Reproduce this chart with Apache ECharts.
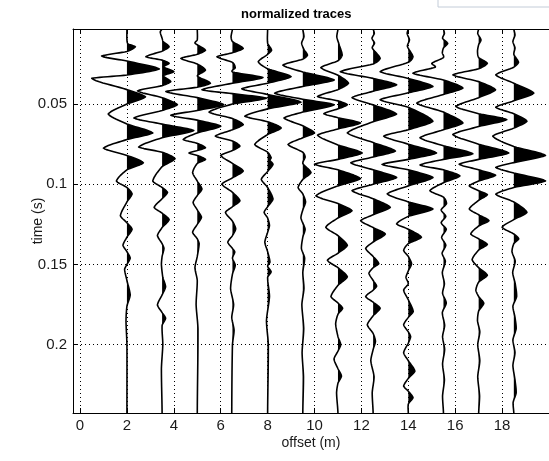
<!DOCTYPE html>
<html>
<head>
<meta charset="utf-8">
<script src="https://cdn.jsdelivr.net/npm/echarts@6/dist/echarts.min.js"></script>
<style>
  html, body { margin: 0; padding: 0; background: #fff; }
  #chart { width: 549px; height: 461px; }
</style>
</head>
<body>
<div id="chart"></div>
<script>
// trace offsets (m)
var offsets = [2, 3.5, 5, 6.5, 8, 9.5, 11, 12.5, 14, 15.5, 17, 18.5]

// each trace: [time (s), horizontal deflection in offset units]
var trace1 = [[0.003,0],[0.010,0],[0.0125,0.05],[0.0143,0.36],[0.0172,0],[0.0201,-1.08],[0.0232,0],[0.0281,1.38],[0.0319,0],[0.0340,-1.5],[0.041,0],[0.0455,0.79],[0.050,0],[0.0562,-0.8],[0.0624,0],[0.068,1.1],[0.0721,0],[0.0775,-1.0],[0.082,0],[0.0866,0.7],[0.091,0],[0.098,-0.45],[0.102,0],[0.106,0.22],[0.111,0],[0.1196,-0.28],[0.124,0],[0.128,0.22],[0.133,0],[0.138,-0.17],[0.142,0],[0.146,0.14],[0.150,0],[0.153,-0.1],[0.160,0],[0.169,0.14],[0.176,0],[0.185,-0.04],[0.200,0],[0.243,0]]
var trace2 = [[0.003,0],[0.005,-0.08],[0.009,0],[0.011,0.05],[0.0143,0.3],[0.017,0],[0.0205,-0.69],[0.0226,0],[0.0246,0.3],[0.0268,0.05],[0.0298,0.5],[0.0323,0.05],[0.036,0.37],[0.0385,0],[0.0418,-1.05],[0.046,0],[0.0504,0.65],[0.054,0],[0.0587,-1.2],[0.0625,0],[0.0665,1.35],[0.071,0],[0.0768,-1.0],[0.080,0],[0.084,0.55],[0.089,0],[0.098,-0.4],[0.102,0],[0.1051,0.23],[0.109,0],[0.1144,-0.34],[0.118,0],[0.122,0.3],[0.127,0],[0.132,-0.2],[0.137,0],[0.140,0.08],[0.145,0],[0.150,-0.03],[0.158,0.03],[0.1639,0.15],[0.169,0],[0.1752,-0.2],[0.180,0],[0.1835,0.15],[0.188,0],[0.200,0.03],[0.215,-0.03],[0.243,0]]
var trace3 = [[0.003,0],[0.010,0],[0.012,-0.1],[0.0164,0.35],[0.019,0],[0.0215,-0.7],[0.025,0],[0.0288,0.35],[0.0325,0],[0.037,0.56],[0.0395,0],[0.0422,-1.34],[0.046,0],[0.0504,1.13],[0.054,0],[0.057,-1.13],[0.060,0],[0.0638,1.0],[0.068,0],[0.0721,-0.6],[0.0745,0],[0.0772,0.35],[0.079,0],[0.0805,-0.35],[0.082,0],[0.0845,0.35],[0.087,0],[0.0927,-0.2],[0.098,0],[0.103,0.2],[0.107,0],[0.1113,-0.18],[0.116,0],[0.1206,0.18],[0.125,0],[0.1299,-0.2],[0.134,0],[0.137,0.08],[0.145,0],[0.152,-0.1],[0.160,0],[0.175,-0.05],[0.190,0.03],[0.243,0]]
var trace4 = [[0.003,0],[0.008,-0.06],[0.011,0],[0.0153,0.46],[0.018,0],[0.0205,-0.66],[0.024,0],[0.0273,0.12],[0.030,0],[0.0335,1.3],[0.037,0],[0.0411,-1.3],[0.0435,0],[0.0463,1.45],[0.050,0],[0.055,-1.0],[0.059,0],[0.0628,0.46],[0.066,0],[0.070,-0.73],[0.073,0],[0.0762,0.32],[0.079,0],[0.082,-0.5],[0.087,0],[0.0917,0.46],[0.096,0],[0.0999,-0.45],[0.105,0],[0.1103,0.32],[0.114,0],[0.1175,-0.3],[0.123,0],[0.1278,0.14],[0.132,0],[0.1361,-0.2],[0.140,0],[0.1422,0.1],[0.146,0],[0.1505,0.12],[0.156,0],[0.165,-0.08],[0.175,0.05],[0.183,-0.03],[0.191,0.07],[0.200,0],[0.243,-0.03]]
var trace5 = [[0.003,0],[0.012,0],[0.0164,0.17],[0.019,0],[0.0236,-0.4],[0.028,0],[0.0329,1.0],[0.037,0],[0.0405,-1.1],[0.044,0],[0.0488,1.42],[0.053,0],[0.0576,-0.97],[0.061,0],[0.0649,0.58],[0.069,0],[0.0752,-0.55],[0.080,0],[0.0834,0.15],[0.085,0.1],[0.0876,0.23],[0.092,0],[0.0969,-0.27],[0.102,0],[0.1092,0.23],[0.114,0],[0.1175,-0.15],[0.121,0],[0.1257,0.08],[0.130,0],[0.1361,-0.12],[0.142,0],[0.1485,0.1],[0.151,0],[0.1546,0.15],[0.158,0],[0.170,0.08],[0.185,-0.05],[0.200,0.03],[0.243,0]]
var trace6 = [[0.003,0],[0.008,0.05],[0.012,-0.05],[0.016,0.05],[0.0195,0.2],[0.022,0],[0.0257,-0.85],[0.030,0],[0.035,1.34],[0.039,0],[0.0432,-1.2],[0.047,0],[0.0504,1.34],[0.055,0],[0.0587,-0.8],[0.0635,0],[0.068,0.5],[0.071,0],[0.0752,-0.63],[0.080,0],[0.083,0.1],[0.087,0],[0.0927,0.35],[0.097,0],[0.102,-0.2],[0.106,0],[0.111,0.12],[0.116,0],[0.121,-0.08],[0.128,0.1],[0.133,0],[0.140,-0.06],[0.146,0.08],[0.155,0],[0.165,0.05],[0.175,-0.04],[0.190,0.04],[0.205,-0.03],[0.220,0.03],[0.243,0]]
var trace7 = [[0.003,0],[0.008,-0.05],[0.013,0.05],[0.0195,0.18],[0.023,0],[0.0273,-0.73],[0.032,0],[0.037,0.45],[0.041,0],[0.0453,-0.87],[0.048,0],[0.0504,0.4],[0.053,0],[0.056,-0.6],[0.0585,0],[0.0618,0.96],[0.0655,0],[0.0694,-0.87],[0.0755,0],[0.0805,1.03],[0.0845,0],[0.0875,-1.0],[0.091,0],[0.0965,0.96],[0.101,0],[0.1072,-0.94],[0.112,0],[0.1165,0.6],[0.121,0],[0.1268,-0.52],[0.132,0],[0.1381,0.4],[0.143,0],[0.1474,-0.45],[0.152,0],[0.1577,0.4],[0.163,0],[0.170,-0.3],[0.174,0],[0.1773,0.2],[0.181,0],[0.187,-0.1],[0.195,0],[0.200,0.12],[0.204,0],[0.209,-0.17],[0.215,0],[0.2196,0.15],[0.224,0],[0.230,-0.06],[0.243,0]]
var trace8 = [[0.003,0],[0.006,0.05],[0.009,-0.05],[0.012,0.06],[0.015,-0.04],[0.0215,0.3],[0.025,0],[0.0298,-1.4],[0.034,0],[0.038,1.0],[0.042,0],[0.046,-0.9],[0.0505,0],[0.0562,1.0],[0.061,0],[0.068,-1.1],[0.074,0],[0.0793,0.95],[0.083,0],[0.0866,-0.95],[0.091,0],[0.0958,1.0],[0.100,0],[0.104,-0.9],[0.109,0],[0.1144,0.73],[0.119,0],[0.1227,-0.53],[0.127,0],[0.131,0.52],[0.136,0],[0.140,-0.32],[0.145,0],[0.1495,0.24],[0.152,0],[0.1555,-0.18],[0.160,0],[0.1635,0.15],[0.166,0],[0.170,-0.32],[0.1735,0],[0.1773,0.3],[0.182,0],[0.1876,-0.25],[0.193,0],[0.1979,0.1],[0.203,0],[0.210,-0.1],[0.220,0.04],[0.230,-0.04],[0.243,0]]
var trace9 = [[0.003,0],[0.006,-0.05],[0.010,0.05],[0.014,-0.04],[0.0205,0.2],[0.024,0],[0.0298,-1.2],[0.034,0],[0.039,1.05],[0.043,0],[0.0473,-1.2],[0.052,0],[0.0607,1.05],[0.066,0],[0.070,-1.05],[0.075,0],[0.0805,1.2],[0.0845,0],[0.0876,-1.12],[0.091,0],[0.0958,1.05],[0.101,0],[0.106,-0.9],[0.111,0],[0.1154,1.05],[0.120,0],[0.1247,-0.5],[0.128,0],[0.133,0.56],[0.137,0],[0.1412,-0.2],[0.145,0],[0.1495,0.14],[0.154,0],[0.158,-0.1],[0.162,0],[0.166,-0.2],[0.172,0],[0.1793,0.21],[0.183,0],[0.1876,-0.2],[0.192,0],[0.195,0.1],[0.199,0],[0.205,-0.2],[0.210,0],[0.2165,0.28],[0.221,0],[0.2258,-0.2],[0.229,0],[0.233,0.2],[0.237,0],[0.243,0]]
var trace10 = [[0.003,0],[0.006,0.04],[0.009,-0.04],[0.0122,0.18],[0.015,0],[0.018,-0.05],[0.021,0],[0.0246,-0.5],[0.027,-0.35],[0.0308,-1.3],[0.035,0],[0.040,0.83],[0.044,0],[0.0494,-1.14],[0.055,0],[0.0618,0.83],[0.066,0],[0.071,-1.0],[0.076,0],[0.081,1.25],[0.0845,0],[0.088,-1.0],[0.091,0],[0.0948,0.7],[0.099,0],[0.104,-0.58],[0.108,0],[0.112,0.13],[0.116,-0.1],[0.120,0.1],[0.124,-0.1],[0.128,0.12],[0.133,-0.08],[0.138,0.1],[0.143,-0.06],[0.148,0.08],[0.155,-0.05],[0.162,0.04],[0.168,-0.04],[0.174,0.12],[0.180,-0.05],[0.188,0.05],[0.195,-0.04],[0.203,0.05],[0.212,-0.04],[0.222,0.04],[0.232,-0.04],[0.243,0]]
var trace11 = [[0.003,0],[0.006,-0.04],[0.010,0.1],[0.013,0],[0.017,-0.05],[0.021,0],[0.0246,0.37],[0.028,0],[0.0318,-1.1],[0.036,0],[0.0411,0.72],[0.046,0],[0.0515,-0.97],[0.056,0],[0.0597,1.2],[0.064,0],[0.069,-1.1],[0.075,0],[0.0805,1.28],[0.0845,0],[0.0875,-0.83],[0.091,0],[0.0944,0.72],[0.098,0],[0.101,-0.4],[0.104,0],[0.1065,0.37],[0.110,0],[0.1154,-0.4],[0.119,0],[0.1227,0.44],[0.126,0],[0.131,-0.34],[0.134,0],[0.1375,0.37],[0.141,0],[0.147,-0.28],[0.152,0],[0.1567,0.37],[0.161,0],[0.166,-0.12],[0.170,0],[0.1742,0.22],[0.179,0],[0.185,-0.05],[0.192,0.05],[0.200,-0.04],[0.210,0.05],[0.220,-0.04],[0.232,0.04],[0.243,0]]
var trace12 = [[0.003,0],[0.007,0.05],[0.011,-0.04],[0.015,0.05],[0.019,0],[0.024,0.2],[0.027,0],[0.0318,-0.77],[0.037,0],[0.0432,0.85],[0.048,0],[0.052,-0.77],[0.056,0],[0.0607,0.56],[0.065,0],[0.070,-0.9],[0.0765,0],[0.082,1.35],[0.0865,0],[0.0895,-0.77],[0.093,0],[0.0979,1.35],[0.102,0],[0.1062,-0.77],[0.111,0],[0.1175,0.56],[0.122,0],[0.1268,-0.5],[0.131,0],[0.134,0.21],[0.137,0],[0.142,-0.08],[0.148,0.06],[0.155,-0.05],[0.162,0.06],[0.170,0.12],[0.176,-0.04],[0.183,0.05],[0.190,0.1],[0.197,-0.04],[0.205,0.05],[0.213,-0.04],[0.222,0.05],[0.230,0.1],[0.236,-0.03],[0.243,0]]

var traces = [trace1, trace2, trace3, trace4, trace5, trace6, trace7, trace8, trace9, trace10, trace11, trace12]

var chartTitle = 'normalized traces'
var xName = 'offset (m)'
var yName = 'time (s)'

var FONT = 'Liberation Sans, Arial, sans-serif'

// curve through the read points for drawing: part hermite, part straight,
// so the lobes keep the pointed look of the plotted samples
function smoothTrace(pts) {
  var n = pts.length
  var slopes = []
  var out = []
  for (var i = 0; i < n; i++) {
    if (i === 0 || i === n - 1) {
      slopes.push(0)
    } else {
      slopes.push((pts[i + 1][1] - pts[i - 1][1]) / (pts[i + 1][0] - pts[i - 1][0]))
    }
  }
  for (i = 0; i < n - 1; i++) {
    var h = pts[i + 1][0] - pts[i][0]
    for (var s = 0; s < 10; s++) {
      var u = s / 10, u2 = u * u, u3 = u2 * u
      var herm = (2 * u3 - 3 * u2 + 1) * pts[i][1] + (u3 - 2 * u2 + u) * h * slopes[i] +
        (-2 * u3 + 3 * u2) * pts[i + 1][1] + (u3 - u2) * h * slopes[i + 1]
      var lin = pts[i][1] + (pts[i + 1][1] - pts[i][1]) * u
      out.push([pts[i][0] + u * h, 0.6 * herm + 0.4 * lin])
    }
  }
  out.push(pts[n - 1])
  return out
}

function renderTrace(params, api) {
  var k = params.dataIndex
  var base = offsets[k]
  var pts = smoothTrace(traces[k])
  var line = []
  var fills = []
  var poly = null
  for (var i = 0; i < pts.length; i++) {
    var t = pts[i][0]
    var a = pts[i][1]
    line.push(api.coord([base + a, t]))
    if (a > 0) {
      if (!poly) {
        var t0 = t
        if (i > 0) {
          var p = pts[i - 1]
          t0 = p[0] + (t - p[0]) * (-p[1]) / (a - p[1])
        }
        poly = [api.coord([base, t0])]
      }
      poly.push(api.coord([base + a, t]))
    } else if (poly) {
      var q = pts[i - 1]
      var t1 = q[0] + (t - q[0]) * q[1] / (q[1] - a)
      poly.push(api.coord([base, t1]))
      fills.push(poly)
      poly = null
    }
  }
  if (poly) {
    poly.push(api.coord([base, pts[pts.length - 1][0]]))
    fills.push(poly)
  }
  var children = fills.map(function(f) {
    return { type: 'polygon', shape: { points: f }, style: { fill: '#000', stroke: null } }
  })
  children.push({
    type: 'polyline',
    shape: { points: line },
    style: { stroke: '#000', lineWidth: 1.6, fill: null, lineJoin: 'round' }
  })
  return { type: 'group', children: children }
}

var chart = echarts.init(document.getElementById('chart'), null, { renderer: 'canvas' })

var axisText = { color: '#1a1a1a', fontSize: 15, fontFamily: FONT }

chart.setOption({
  animation: false,
  backgroundColor: '#fff',
  title: {
    text: chartTitle,
    left: 236,
    top: 3,
    textStyle: { fontSize: 13, fontWeight: 'bold', fontFamily: FONT, color: '#000' }
  },
  graphic: [{
    type: 'polyline',
    shape: { points: [[438, 0], [438, 7], [549, 7]] },
    style: { stroke: '#c3ccd8', lineWidth: 1, fill: null }
  }],
  grid: { left: 73, right: -4, top: 29, bottom: 48 },
  xAxis: [{
    type: 'value',
    min: -0.3,
    max: 20,
    splitNumber: 10,
    position: 'bottom',
    name: xName,
    nameLocation: 'middle',
    nameGap: 23,
    nameMoveOverlap: false,
    nameTextStyle: { color: '#1a1a1a', fontSize: 14, fontFamily: FONT },
    axisLine: { show: true, onZero: false, lineStyle: { color: '#000', width: 1 } },
    axisTick: { show: true, inside: true, length: 5, lineStyle: { color: '#000' } },
    axisLabel: Object.assign({ margin: 5, showMinLabel: false, showMaxLabel: false }, axisText),
    splitLine: { show: true, lineStyle: { color: '#000', width: 1, type: [1, 3] } }
  }, {
    type: 'value',
    min: -0.3,
    max: 20,
    splitNumber: 10,
    position: 'top',
    axisLine: { show: true, onZero: false, lineStyle: { color: '#000', width: 1 } },
    axisTick: { show: true, inside: true, length: 5, lineStyle: { color: '#000' } },
    axisLabel: { show: false },
    splitLine: { show: false }
  }],
  yAxis: {
    type: 'value',
    inverse: true,
    min: 0.0032,
    max: 0.2426,
    splitNumber: 5,
    name: yName,
    nameLocation: 'middle',
    nameGap: 28,
    nameMoveOverlap: false,
    nameTextStyle: { color: '#1a1a1a', fontSize: 14, fontFamily: FONT },
    axisLine: { show: true, onZero: false, lineStyle: { color: '#000', width: 1 } },
    axisTick: { show: true, inside: true, length: 5, lineStyle: { color: '#000' } },
    axisLabel: Object.assign({ margin: 6, showMinLabel: false, showMaxLabel: false }, axisText),
    splitLine: { show: true, lineStyle: { color: '#000', width: 1, type: [1, 3] } }
  },
  series: [{
    type: 'custom',
    clip: true,
    silent: true,
    renderItem: renderTrace,
    data: offsets.map(function(o) { return [o, 0.1] })
  }]
})
</script>
</body>
</html>
